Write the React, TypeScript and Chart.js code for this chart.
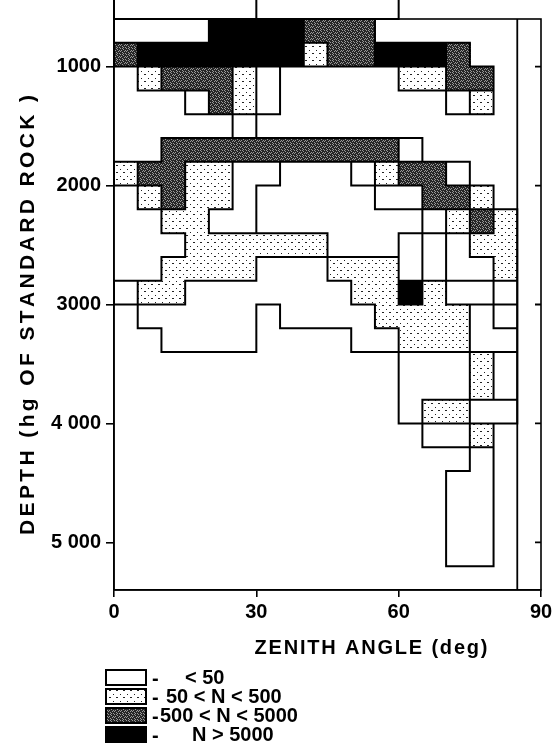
import React, { useEffect, useRef } from 'react';
import { Chart, registerables } from 'chart.js';

Chart.register(...registerables);

// ---- data ----
// zenith angle bins (deg), 5 degrees wide, left edges
const zenithEdges = [0, 5, 10, 15, 20, 25, 30, 35, 40, 45, 50, 55, 60, 65, 70, 75, 80];
const zenithStep = 5;
// depth bins (hg of standard rock), 200 wide, top edges
const depthTops = [400, 600, 800, 1000, 1200, 1400, 1600, 1800, 2000, 2200, 2400, 2600, 2800, 3000, 3200, 3400, 3600, 3800, 4000, 4200, 4400, 4600, 4800, 5000];
const depthStep = 200;
// one string per depth bin, one char per zenith bin:
// '.' no data, 'b' N>5000, 'g' 500<N<5000, 'd' 50<N<500, any other char: N<50 (letter = outlined group)
const cellRows = [
  'AAAAAABBBBBB.....',
  'CCCCbbbbggg......',
  'gbbbbbbbdggbbbg..',
  '.dgggdD.....ddgg.',
  '...EgdD.......Fd.',
  '.....G...........',
  '..ggggggggggH....',
  'dggddIIJJJKdggL..',
  '.dgddIJJJJJMMggd.',
  '..ddIIJJJJJJJNdgd',
  '...ddddddJJJOPQdd',
  '..ddddRRRdddOPQQd',
  'SddRRRRRRRddbdTTU',
  '.RRRRR.RRRRddddVW',
  '..RRRR....RRdddVV',
  '............XXXdY',
  '............XXXdY',
  '............XddZZ',
  '.............11d.',
  '...............2.',
  '..............22.',
  '..............22.',
  '..............22.',
  '..............22.',
];
const zenithLimit = 85;
const xTickValues = [0, 30, 60, 90];
const xTickLabels = ['0', '30', '60', '90'];
const yTickValues = [1000, 2000, 3000, 4000, 5000];
const yTickLabels = ['1000', '2000', '3000', '4 000', '5 000'];
const legendKinds = ['white', 'dotted', 'gray', 'black'];
const legendLabels = ['< 50', '50 < N < 500', '500 < N < 5000', 'N > 5000'];
const xTitle = 'ZENITH ANGLE (deg)';
const yTitle = 'DEPTH (hg OF STANDARD ROCK )';

const FONT = '"Liberation Sans", Arial, sans-serif';

function makePattern(kind: string): CanvasPattern | string {
  const c = document.createElement('canvas');
  const ctx = c.getContext('2d')!;
  if (kind === 'dotted') {
    c.width = 7; c.height = 7;
    ctx.fillStyle = '#fff';
    ctx.fillRect(0, 0, 7, 7);
    ctx.fillStyle = '#222';
    ctx.fillRect(1, 1, 1, 1);
    ctx.fillRect(4, 4, 2, 1);
    return ctx.createPattern(c, 'repeat')!;
  }
  if (kind === 'gray') {
    const m = [
      '101000',
      '000100',
      '010001',
      '100010',
      '001000',
      '000101',
    ];
    c.width = 6; c.height = 6;
    for (let r = 0; r < 6; r++) for (let k = 0; k < 6; k++) {
      ctx.fillStyle = m[r][k] === '1' ? '#9a9a9a' : '#262626';
      ctx.fillRect(k, r, 1, 1);
    }
    return ctx.createPattern(c, 'repeat')!;
  }
  if (kind === 'black') return '#000';
  return '#fff';
}

function kindOf(ch: string): string {
  if (ch === 'b') return 'black';
  if (ch === 'g') return 'gray';
  if (ch === 'd') return 'dotted';
  return 'white';
}

function drawSpaced(ctx: CanvasRenderingContext2D, text: string, cx: number, cy: number, target: number) {
  const chars = Array.from(text);
  const widths = chars.map((ch) => ctx.measureText(ch).width);
  const natural = widths.reduce((a, b) => a + b, 0);
  const gap = chars.length > 1 ? Math.max(0, (target - natural) / (chars.length - 1)) : 0;
  const total = natural + gap * (chars.length - 1);
  let x = cx - total / 2;
  ctx.textAlign = 'left';
  ctx.textBaseline = 'middle';
  chars.forEach((ch, i) => {
    ctx.fillText(ch, x, cy);
    x += widths[i] + gap;
  });
}

export default function App() {
  const ref = useRef<HTMLCanvasElement>(null);

  useEffect(() => {
    document.body.style.margin = '0';
    const canvas = ref.current!;
    const fills: Record<string, CanvasPattern | string> = {
      white: makePattern('white'),
      dotted: makePattern('dotted'),
      gray: makePattern('gray'),
      black: makePattern('black'),
    };

    const cellsPlugin = {
      id: 'cells',
      afterDraw(chart: any) {
        const ctx: CanvasRenderingContext2D = chart.ctx;
        const xs = chart.scales.x;
        const ys = chart.scales.y;
        const area = chart.chartArea;
        const nR = cellRows.length;
        const nC = zenithEdges.length;
        const get = (r: number, c: number) => (r < 0 || r >= nR || c < 0 || c >= nC ? '.' : cellRows[r][c]);
        const px = (c: number) => xs.getPixelForValue(zenithEdges[0] + c * zenithStep);
        const py = (r: number) => ys.getPixelForValue(depthTops[0] + r * depthStep);

        ctx.save();
        // fills
        for (let r = 0; r < nR; r++) {
          for (let c = 0; c < nC; c++) {
            const ch = get(r, c);
            if (ch === '.') continue;
            const x0 = px(c), x1 = px(c + 1);
            const y0 = py(r), y1 = py(r + 1);
            ctx.fillStyle = fills[kindOf(ch)];
            ctx.fillRect(Math.floor(x0), Math.floor(y0), Math.ceil(x1 - x0) + 1, Math.ceil(y1 - y0) + 1);
          }
        }
        // outlines between different groups
        ctx.strokeStyle = '#000';
        ctx.lineWidth = 2;
        ctx.lineCap = 'square';
        ctx.beginPath();
        for (let r = -1; r < nR; r++) {
          for (let c = -1; c < nC; c++) {
            const ch = get(r, c);
            const right = get(r, c + 1);
            const below = get(r + 1, c);
            if (r >= 0 && ch !== right) {
              const x = px(c + 1);
              ctx.moveTo(x, py(r));
              ctx.lineTo(x, py(r + 1));
            }
            if (c >= 0 && ch !== below) {
              const y = py(r + 1);
              ctx.moveTo(px(c), y);
              ctx.lineTo(px(c + 1), y);
            }
          }
        }
        ctx.stroke();

        // frame
        ctx.lineWidth = 1.6;
        ctx.lineCap = 'butt';
        ctx.strokeRect(area.left, area.top, area.right - area.left, area.bottom - area.top);
        // zenith limit line
        ctx.lineWidth = 1.8;
        ctx.beginPath();
        const xl = xs.getPixelForValue(zenithLimit);
        ctx.moveTo(xl, area.top);
        ctx.lineTo(xl, area.bottom);
        // inward ticks on right frame
        yTickValues.forEach((v) => {
          const y = ys.getPixelForValue(v);
          ctx.moveTo(area.right, y);
          ctx.lineTo(area.right - 6, y);
        });
        ctx.stroke();

        // titles
        ctx.fillStyle = '#000';
        ctx.font = `bold 20px ${FONT}`;
        drawSpaced(ctx, xTitle, 371, 648, 233);
        ctx.save();
        ctx.translate(28, 315);
        ctx.rotate(-Math.PI / 2);
        ctx.font = `bold 21px ${FONT}`;
        drawSpaced(ctx, yTitle, 0, 0, 440);
        ctx.restore();

        // legend
        const boxL = 106, boxW = 40, boxH = 15, top0 = 670, pitch = 19;
        const textX = [185, 166, 160, 192];
        legendKinds.forEach((k, i) => {
          const y = top0 + i * pitch;
          ctx.fillStyle = fills[k];
          ctx.fillRect(boxL, y, boxW, boxH);
          ctx.lineWidth = 2;
          ctx.strokeStyle = '#000';
          ctx.strokeRect(boxL, y, boxW, boxH);
          ctx.fillStyle = '#000';
          ctx.font = `bold 20px ${FONT}`;
          ctx.textAlign = 'left';
          ctx.textBaseline = 'middle';
          ctx.fillText('-', 152, y + boxH / 2 + 2);
          ctx.fillText(legendLabels[i], textX[i], y + boxH / 2 + 1);
        });
        ctx.restore();
      },
    };

    const tickFont = { family: FONT, size: 20, weight: 'bold' as const };

    const chart = new Chart(canvas, {
      type: 'scatter',
      data: { datasets: [{ data: [], pointRadius: 0 }] },
      options: {
        animation: false,
        responsive: false,
        devicePixelRatio: 1,
        layout: { padding: { left: 0, right: 17, top: 19, bottom: 91 } },
        plugins: { legend: { display: false }, tooltip: { enabled: false } },
        scales: {
          x: {
            type: 'linear',
            min: 0,
            max: 90,
            afterBuildTicks: (s: any) => { s.ticks = xTickValues.map((v) => ({ value: v })); },
            afterFit: (s: any) => { s.height = 70; },
            ticks: {
              callback: (v: any) => xTickLabels[xTickValues.indexOf(Number(v))],
              font: tickFont,
              color: '#000',
              padding: 3,
              maxRotation: 0,
              autoSkip: false,
            },
            grid: { drawOnChartArea: false, drawTicks: true, tickLength: 7, color: '#000', lineWidth: 1.6 },
            border: { display: true, color: '#000', width: 1.6 },
          },
          y: {
            type: 'linear',
            reverse: true,
            min: 600,
            max: 5400,
            afterBuildTicks: (s: any) => { s.ticks = yTickValues.map((v) => ({ value: v })); },
            afterFit: (s: any) => { s.width = 114; },
            ticks: {
              callback: (v: any) => yTickLabels[yTickValues.indexOf(Number(v))],
              font: tickFont,
              color: '#000',
              padding: 5,
              autoSkip: false,
            },
            grid: { drawOnChartArea: false, drawTicks: true, tickLength: 8, color: '#000', lineWidth: 1.6 },
            border: { display: true, color: '#000', width: 1.6 },
          },
        },
      },
      plugins: [cellsPlugin],
    } as any);

    return () => chart.destroy();
  }, []);

  return <canvas ref={ref} width={558} height={751} style={{ display: 'block' }} />;
}
